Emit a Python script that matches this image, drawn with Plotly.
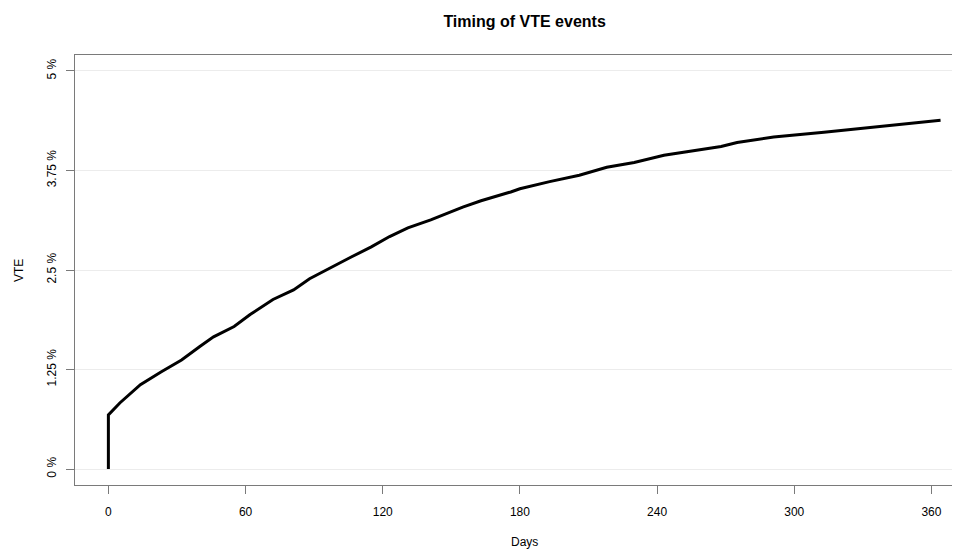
import plotly.graph_objects as go

# Cumulative incidence of VTE (%) by day
days = [0, 0, 5, 14, 23, 32, 40, 46, 55, 62, 72, 81, 88, 97, 106, 115, 123, 131,
        141, 155, 163, 176, 180, 193, 206, 218, 230, 243, 256, 268, 275, 291,
        313, 329, 341, 355, 364]
vte_pct = [0.0, 0.68, 0.83, 1.06, 1.22, 1.37, 1.54, 1.66, 1.79, 1.94, 2.13, 2.25,
           2.39, 2.53, 2.66, 2.79, 2.92, 3.03, 3.13, 3.29, 3.37, 3.48, 3.52,
           3.61, 3.69, 3.79, 3.85, 3.94, 4.00, 4.05, 4.10, 4.17, 4.23, 4.28,
           4.31, 4.36, 4.38]

x_ticks = [0, 60, 120, 180, 240, 300, 360]
y_ticks = [0, 1.25, 2.5, 3.75, 5]
y_tick_labels = ["0 %", "1.25 %", "2.5 %", "3.75 %", "5 %"]

FONT = "Liberation Sans, Arial, sans-serif"
BOX = "#7a7a7a"

fig = go.Figure()
fig.add_trace(go.Scatter(
    x=days, y=vte_pct, mode="lines",
    line=dict(color="black", width=3),
    hoverinfo="skip", showlegend=False,
))

# page has an 8px body margin: figure is sized/offset to compensate
fig.update_layout(
    width=952, height=542,
    margin=dict(l=67, r=0, t=47, b=65),
    paper_bgcolor="white", plot_bgcolor="white",
    font=dict(family=FONT, size=12, color="black"),
    title=dict(text="<b>Timing of VTE events</b>", font=dict(size=16, family=FONT),
               xref="paper", x=0.508, xanchor="center",
               yref="container", y=0.976, yanchor="middle"),
    xaxis=dict(range=[-14.6, 372.5], tickvals=x_ticks,
               showgrid=False, zeroline=False,
               showline=True, linecolor=BOX, linewidth=1, mirror=True,
               ticks="outside", ticklen=8, tickcolor=BOX, tickwidth=1,
               ticklabelstandoff=8,
               tickfont=dict(size=12)),
    yaxis=dict(range=[-0.2, 5.2], tickvals=y_ticks, ticktext=y_tick_labels,
               tickangle=-90,
               showgrid=True, gridcolor="#ececec", gridwidth=1, zeroline=False,
               showline=True, linecolor=BOX, linewidth=1,
               ticks="outside", ticklen=8, tickcolor=BOX, tickwidth=1,
               ticklabelstandoff=5,
               tickfont=dict(size=12)),
    annotations=[
        dict(text="Days", xref="paper", yref="paper", x=0.508, y=-0.132,
             xanchor="center", yanchor="middle", showarrow=False,
             font=dict(size=12)),
        dict(text="VTE", xref="paper", yref="paper", x=-0.0633, y=0.5,
             xanchor="center", yanchor="middle", showarrow=False,
             textangle=-90, font=dict(size=12)),
    ],
)

fig.write_html("out.html")
